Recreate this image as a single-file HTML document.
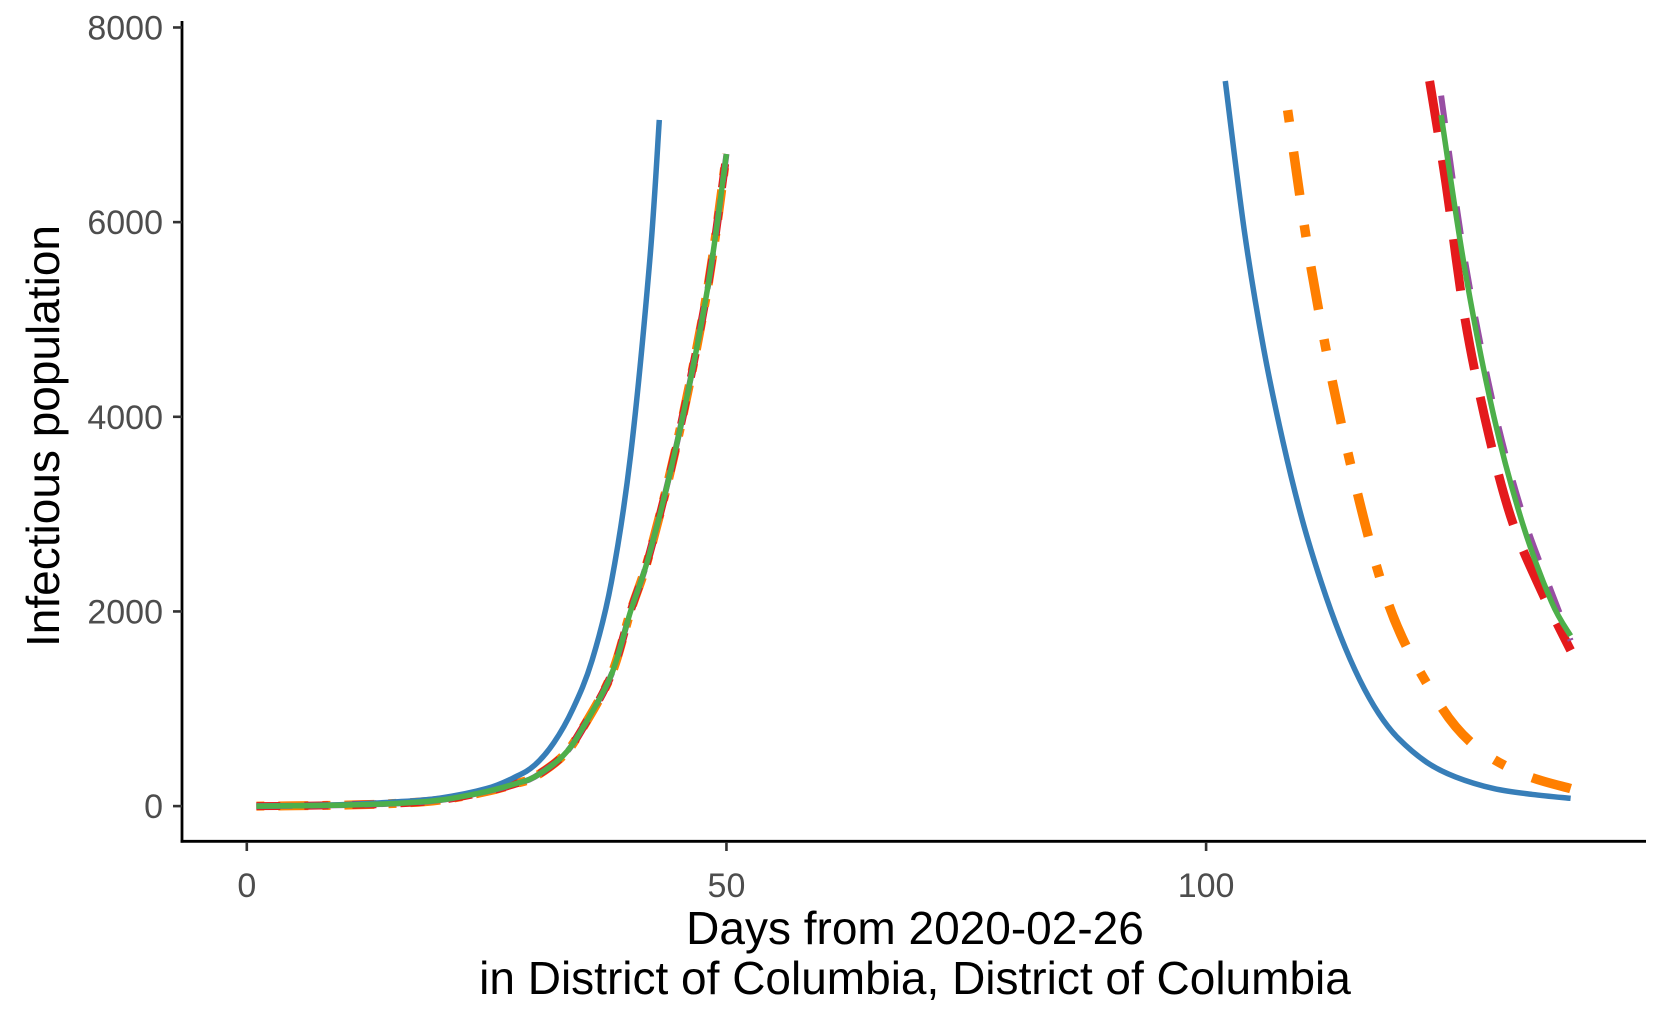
<!DOCTYPE html>
<html><head><meta charset="utf-8"><style>
html,body{margin:0;padding:0;background:#fff}
svg{display:block}
text{font-family:"Liberation Sans",Arial,sans-serif}
</style></head><body>
<svg id="chart" width="1659" height="1025" viewBox="0 0 1659 1025" xmlns="http://www.w3.org/2000/svg">
<g id="plot"></g>
<g id="axes"></g>
<text x="915" y="944" font-size="46" text-anchor="middle" fill="#000">Days from 2020-02-26</text>
<text x="915" y="994" font-size="46" text-anchor="middle" fill="#000">in District of Columbia, District of Columbia</text>
<text transform="translate(59,436) rotate(-90)" font-size="46" text-anchor="middle" fill="#000">Infectious population</text>
</svg>
<script>
const xTicks = [0, 50, 100];
const yTicks = [0, 2000, 4000, 6000, 8000];
const blueEarlyDays = [1,5,10,15,20,25,28,30,32,34,36,38,40,42,43];
const blueEarlyVals = [0,5,15,40,80,180,300,420,650,1000,1500,2300,3600,5600,7050];
const otherEarlyDays = [1,5,10,15,20,25,28,30,33,35,38,40,42,45,48,50];
const otherEarlyVals = [0,3,10,25,60,150,230,300,520,800,1350,2000,2600,3800,5300,6700];
const blueLateDays = [102,104,106,108,110,112,114,116,118,120,123,126,130,134,138];
const blueLateVals = [7450,5900,4700,3750,2950,2300,1750,1300,950,700,450,300,180,120,80];
const orangeLateDays = [108.5,111,114.5,119,124,128,133,138];
const orangeLateVals = [7150,5500,3750,2080,1100,620,330,180];
const redLateDays = [123.3,125,127,129.5,132,135,138];
const redLateVals = [7450,6400,5000,3800,2900,2200,1600];
const purpleLateDays = [124.5,127,130,133,136,138];
const purpleLateVals = [7300,5600,4100,3000,2200,1700];
const greenLateDays = [124.5,127,130,133,136,138];
const greenLateVals = [7100,5500,4000,2900,2100,1750];

const NS="http://www.w3.org/2000/svg";
const X0=246.8, XS=9.593, Y0=806.1, YS=(810.4-25.5)/8000*0.992;
const xs=d=>X0+d*XS, ys=v=>Y0-v*YS;
const plot=document.getElementById('plot'), axes=document.getElementById('axes');
function pathD(days,vals){
  const p=days.map((d,i)=>[xs(d),ys(vals[i])]);
  let s=`M${p[0][0]},${p[0][1]}`;
  for(let i=0;i<p.length-1;i++){
    const a=p[i-1]||p[i], b=p[i], c=p[i+1], e=p[i+2]||c;
    const c1=[b[0]+(c[0]-a[0])/6,b[1]+(c[1]-a[1])/6], c2=[c[0]-(e[0]-b[0])/6,c[1]-(e[1]-b[1])/6];
    s+=`C${c1[0]},${c1[1]} ${c2[0]},${c2[1]} ${c[0]},${c[1]}`;
  }
  return s;
}
function line(name,days,vals,color,w,dash){
  const el=document.createElementNS(NS,'path');
  
  
  el.setAttribute('d',pathD(days,vals));
  el.setAttribute('fill','none');el.setAttribute('stroke',color);el.setAttribute('stroke-width',w);
  if(dash)el.setAttribute('stroke-dasharray',dash);
  plot.appendChild(el);
}
line('orange-early-line',otherEarlyDays,otherEarlyVals,'#ff7f00',9,'8 14 30 14');
line('red-early-line',otherEarlyDays,otherEarlyVals,'#e41a1c',8,'24 24');
line('purple-early-line',otherEarlyDays,otherEarlyVals,'#984ea3',6,'36 18');
line('blue-early-line',blueEarlyDays,blueEarlyVals,'#377eb8',5.5,null);
line('green-early-line',otherEarlyDays,otherEarlyVals,'#4daf4a',5.5,null);
line('orange-late-line',orangeLateDays,orangeLateVals,'#ff7f00',9.5,'12 30 44 30');
line('red-late-line',redLateDays,redLateVals,'#e41a1c',9,'52 28');
line('purple-late-line',purpleLateDays,purpleLateVals,'#984ea3',6,'28 28');
line('blue-late-line',blueLateDays,blueLateVals,'#377eb8',5.5,null);
line('green-late-line',greenLateDays,greenLateVals,'#4daf4a',5.5,null);

function mk(tag,attrs,name,txt){
  const el=document.createElementNS(NS,tag);
  for(const k in attrs)el.setAttribute(k,attrs[k]);
  
  
  if(txt!==undefined)el.textContent=txt;
  axes.appendChild(el);return el;
}
mk('line',{x1:182,y1:21,x2:182,y2:842.6,stroke:'#000','stroke-width':2.8},'y-axis-line');
mk('line',{x1:180.6,y1:841.3,x2:1646,y2:841.3,stroke:'#000','stroke-width':2.8},'x-axis-line');
xTicks.forEach(t=>{
  mk('line',{x1:xs(t),y1:842,x2:xs(t),y2:851,stroke:'#333','stroke-width':2.6},'x-tick-'+t);
  mk('text',{x:xs(t),y:897,'font-size':34,'text-anchor':'middle',fill:'#4d4d4d'},'x-tick-label-'+t,String(t));
});
yTicks.forEach(t=>{
  mk('line',{x1:173,y1:ys(t),x2:182,y2:ys(t),stroke:'#333','stroke-width':2.6},'y-tick-'+t);
  mk('text',{x:163,y:ys(t)+12,'font-size':34,'text-anchor':'end',fill:'#4d4d4d'},'y-tick-label-'+t,String(t));
});
</script>
</body></html>
